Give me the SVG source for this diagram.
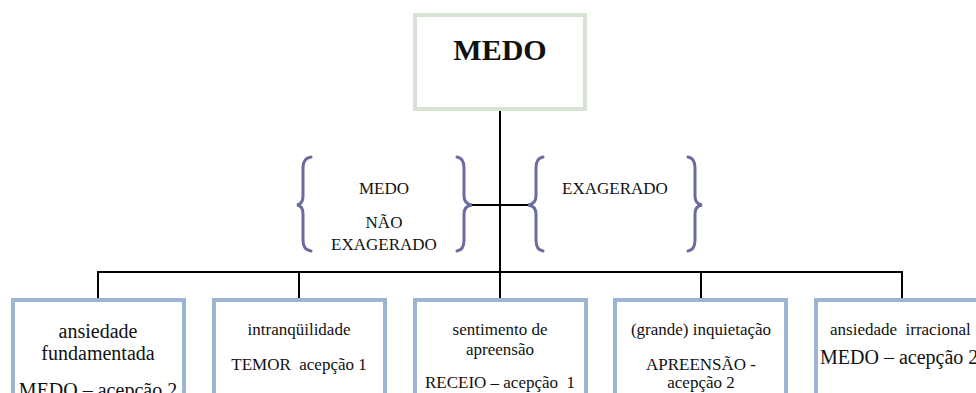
<svg xmlns="http://www.w3.org/2000/svg" width="976" height="393" viewBox="0 0 976 393">
<style>
.t{font-family:"Liberation Serif","Times New Roman",serif;fill:#111;text-anchor:middle;font-size:17px;white-space:pre}
.big{font-size:20px}
.box{fill:#fff;stroke:#9db4d3;stroke-width:4}
.brace{fill:none;stroke:#6a6ca0;stroke-width:3;stroke-linecap:round}
.ln{fill:none;stroke:#000;stroke-width:2}
</style>
<rect width="976" height="393" fill="#fff"/>
<g id="connectors">
<path class="ln" d="M500 110 V272 M472 205 H528 M98 272 H902 M98 271 V298 M299 271 V298 M500 271 V298 M701 271 V298 M902 271 V298"/>
</g>
<g id="medo">
<rect x="415" y="15" width="170" height="94" fill="#fff" stroke="#d6e3d2" stroke-width="4"/>
<text class="t" x="500" y="60" style="font-size:30px;font-weight:bold">MEDO</text>
</g>
<g id="nao-exagerado">
<path class="brace" d="M311 157 Q303 158 303 168 V196 Q303 204 297 205 Q303 206 303 214 V240 Q303 250 311 251"/>
<path class="brace" d="M457 157 Q464 158 464 168 V196 Q464 204 472 205 Q464 206 464 214 V240 Q464 250 457 251"/>
<text class="t" x="384" y="194">MEDO</text>
<text class="t" x="384" y="228">NÃO</text>
<text class="t" x="384" y="250">EXAGERADO</text>
</g>
<g id="exagerado">
<path class="brace" d="M543 157 Q536 158 536 168 V196 Q536 204 528 205 Q536 206 536 214 V240 Q536 250 543 251"/>
<path class="brace" d="M688 157 Q695 158 695 168 V196 Q695 204 702 205 Q695 206 695 214 V240 Q695 250 688 251"/>
<text class="t" x="615" y="194">EXAGERADO</text>
</g>
<g id="n1">
<rect class="box" x="13" y="300" width="171" height="100"/>
<text class="t big" x="98" y="338">ansiedade</text>
<text class="t big" x="98" y="360">fundamentada</text>
<text class="t big" x="98" y="397">MEDO – acepção 2</text>
</g>
<g id="n2">
<rect class="box" x="214" y="300" width="171" height="100"/>
<text class="t" x="299" y="335">intranqüilidade</text>
<text class="t" x="299" y="370">TEMOR  acepção 1</text>
</g>
<g id="n3">
<rect class="box" x="415" y="300" width="171" height="100"/>
<text class="t" x="500" y="335">sentimento de</text>
<text class="t" x="500" y="355">apreensão</text>
<text class="t" x="500" y="388">RECEIO – acepção  1</text>
</g>
<g id="n4">
<rect class="box" x="615" y="300" width="171" height="100"/>
<text class="t" x="701" y="335">(grande) inquietação</text>
<text class="t" x="701" y="370">APREENSÃO -</text>
<text class="t" x="701" y="388">acepção 2</text>
</g>
<g id="n5">
<rect class="box" x="816" y="300" width="171" height="100"/>
<text class="t" x="830" y="335" style="text-anchor:start">ansiedade  irracional</text>
<text class="t big" x="820" y="364" style="text-anchor:start">MEDO – acepção 2</text>
</g>
</svg>
